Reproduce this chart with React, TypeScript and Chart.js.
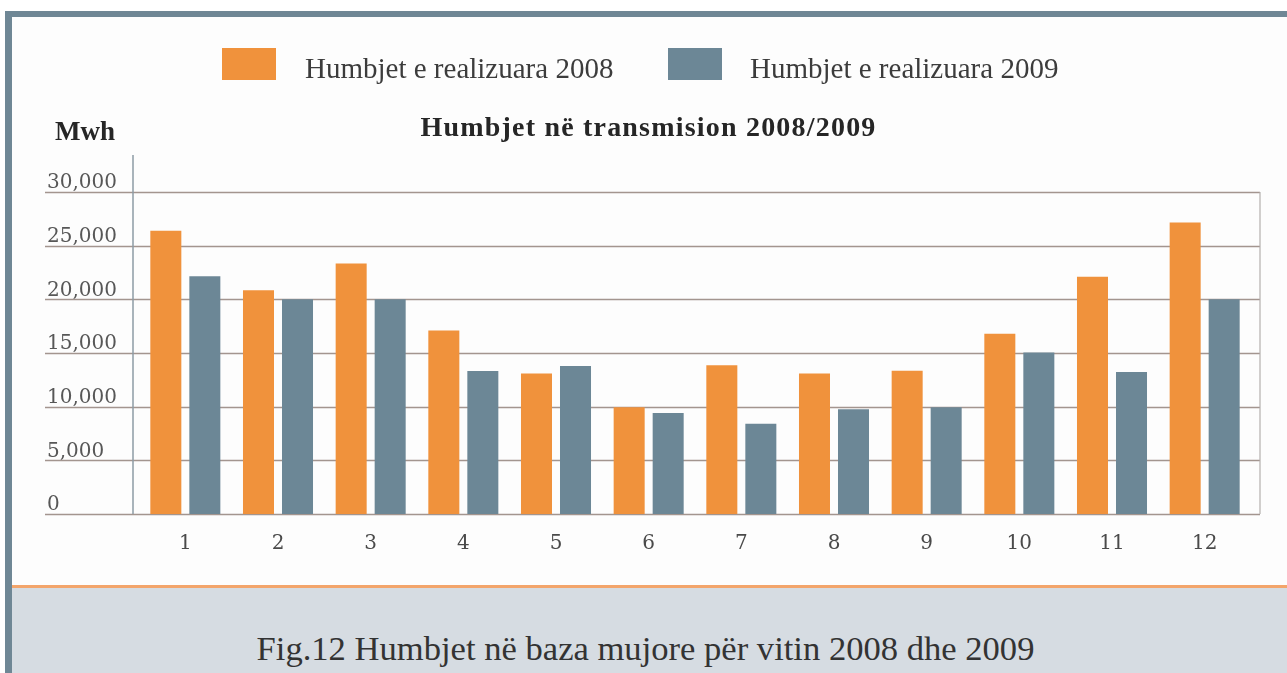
import React, { useEffect, useRef } from "react";
import { Chart, registerables } from "chart.js";

Chart.register(...registerables);

const months = ["1", "2", "3", "4", "5", "6", "7", "8", "9", "10", "11", "12"];
const losses2008 = [26400, 20850, 23350, 17100, 13100, 9950, 13850, 13100, 13350, 16800, 22100, 27150];
const losses2009 = [22150, 20000, 20000, 13330, 13800, 9400, 8400, 9750, 9950, 15050, 13230, 20000];
const seriesLabels = ["Humbjet e realizuara 2008", "Humbjet e realizuara 2009"];
const yMin = 0;
const yMax = 30000;
const yStep = 5000;
const chartTitle = "Humbjet në transmision 2008/2009";
const unitLabel = "Mwh";
const caption = "Fig.12 Humbjet në baza mujore për vitin 2008 dhe 2009";

const ORANGE = "#f0923c";
const SLATE = "#6c8796";
const FRAME = "#6f8795";

const gridPlugin = {
  id: "gridPlugin",
  beforeDatasetsDraw(chart: any) {
    const { ctx, chartArea, scales } = chart;
    const y = scales.y;
    const left = y.left - 2;
    const right = chartArea.right + 9;
    ctx.save();
    ctx.strokeStyle = "#a3958f";
    ctx.lineWidth = 1.6;
    y.ticks.forEach((t: any) => {
      const py = Math.round(y.getPixelForValue(t.value)) + 0.5;
      ctx.beginPath();
      ctx.moveTo(left, py);
      ctx.lineTo(right, py);
      ctx.stroke();
    });
    const yBottom = y.getPixelForValue(yMin);
    const yTop = y.getPixelForValue(yMax);
    ctx.strokeStyle = "#8d9ba4";
    ctx.lineWidth = 1.5;
    ctx.beginPath();
    ctx.moveTo(chartArea.left - 6, yTop - 37);
    ctx.lineTo(chartArea.left - 6, yBottom);
    ctx.stroke();
    ctx.strokeStyle = "#b4b0ae";
    ctx.lineWidth = 1.2;
    ctx.beginPath();
    ctx.moveTo(right, yTop);
    ctx.lineTo(right, yBottom);
    ctx.stroke();
    ctx.restore();
  },
};

function BarChart() {
  const ref = useRef<HTMLCanvasElement | null>(null);
  useEffect(() => {
    if (!ref.current) return;
    const chart = new Chart(ref.current, {
      type: "bar",
      data: {
        labels: months,
        datasets: [
          {
            label: seriesLabels[0],
            data: losses2008,
            backgroundColor: ORANGE,
            borderWidth: 0,
            categoryPercentage: 0.842,
            barPercentage: 0.795,
          },
          {
            label: seriesLabels[1],
            data: losses2009,
            backgroundColor: SLATE,
            borderWidth: 0,
            categoryPercentage: 0.842,
            barPercentage: 0.795,
          },
        ],
      },
      options: {
        responsive: false,
        animation: false,
        devicePixelRatio: 1,
        layout: { padding: { left: 35, right: 36, top: 175, bottom: 0 } },
        plugins: {
          legend: { display: false },
          title: { display: false },
          tooltip: { enabled: false },
        },
        scales: {
          x: {
            type: "category",
            offset: true,
            grid: { display: false, drawTicks: false },
            border: { display: false },
            ticks: {
              padding: 18,
              color: "#4a4a4a",
              font: { family: "DejaVu Serif", size: 20 },
            },
            afterFit: (s: any) => {
              s.height = 71;
            },
          },
          y: {
            min: yMin,
            max: yMax,
            grid: { display: false, drawTicks: false },
            border: { display: false },
            ticks: {
              stepSize: yStep,
              crossAlign: "far",
              labelOffset: -9,
              color: "#575757",
              font: { family: "DejaVu Serif", size: 20 },
              callback: (v: any) => Number(v).toLocaleString("en-US"),
            },
            afterFit: (s: any) => {
              s.width = 92;
            },
          },
        },
      },
      plugins: [gridPlugin],
    } as any);
    return () => chart.destroy();
  }, []);
  return (
    <canvas
      ref={ref}
      width={1275}
      height={568}
      style={{ position: "absolute", left: 12, top: 17, width: 1275, height: 568 }}
    />
  );
}

export default function App() {
  const serif = "'Liberation Serif', 'Times New Roman', serif";
  return (
    <div
      style={{
        position: "fixed",
        left: 0,
        top: 0,
        width: 1287,
        height: 673,
        background: "#ffffff",
        overflow: "hidden",
        fontFamily: serif,
      }}
    >
      <div style={{ position: "absolute", left: 5, top: 11, width: 1282, height: 6, background: FRAME }} />
      <div style={{ position: "absolute", left: 5, top: 11, width: 7, height: 662, background: FRAME }} />
      <div style={{ position: "absolute", left: 12, top: 17, width: 1275, height: 568, background: "#fdfdfd" }} />
      <div style={{ position: "absolute", left: 12, top: 585, width: 1275, height: 3, background: "#f3a56b" }} />
      <div style={{ position: "absolute", left: 12, top: 588, width: 1275, height: 85, background: "#d6dce2" }} />
      <BarChart />
      {/* legend */}
      <div style={{ position: "absolute", left: 222, top: 48, width: 54, height: 32, background: ORANGE }} />
      <div style={{ position: "absolute", left: 305, top: 50, height: 36, lineHeight: "36px", fontSize: 29, color: "#3c3c3c", whiteSpace: "nowrap" }}>
        {seriesLabels[0]}
      </div>
      <div style={{ position: "absolute", left: 668, top: 48, width: 54, height: 32, background: SLATE }} />
      <div style={{ position: "absolute", left: 750, top: 50, height: 36, lineHeight: "36px", fontSize: 29, color: "#3c3c3c", whiteSpace: "nowrap" }}>
        {seriesLabels[1]}
      </div>
      {/* title */}
      <div
        style={{
          position: "absolute",
          left: 0,
          width: 1297,
          top: 109,
          height: 36,
          lineHeight: "36px",
          textAlign: "center",
          fontSize: 28,
          fontWeight: "bold",
          letterSpacing: "1.2px",
          color: "#262626",
          whiteSpace: "nowrap",
        }}
      >
        {chartTitle}
      </div>
      <div style={{ position: "absolute", left: 55, top: 113, height: 36, lineHeight: "36px", fontSize: 27, fontWeight: "bold", color: "#262626" }}>
        {unitLabel}
      </div>
      {/* caption */}
      <div
        style={{
          position: "absolute",
          left: 8,
          width: 1275,
          top: 626,
          height: 44,
          lineHeight: "44px",
          textAlign: "center",
          fontSize: 34.6,
          color: "#333333",
          whiteSpace: "nowrap",
        }}
      >
        {caption}
      </div>
    </div>
  );
}
